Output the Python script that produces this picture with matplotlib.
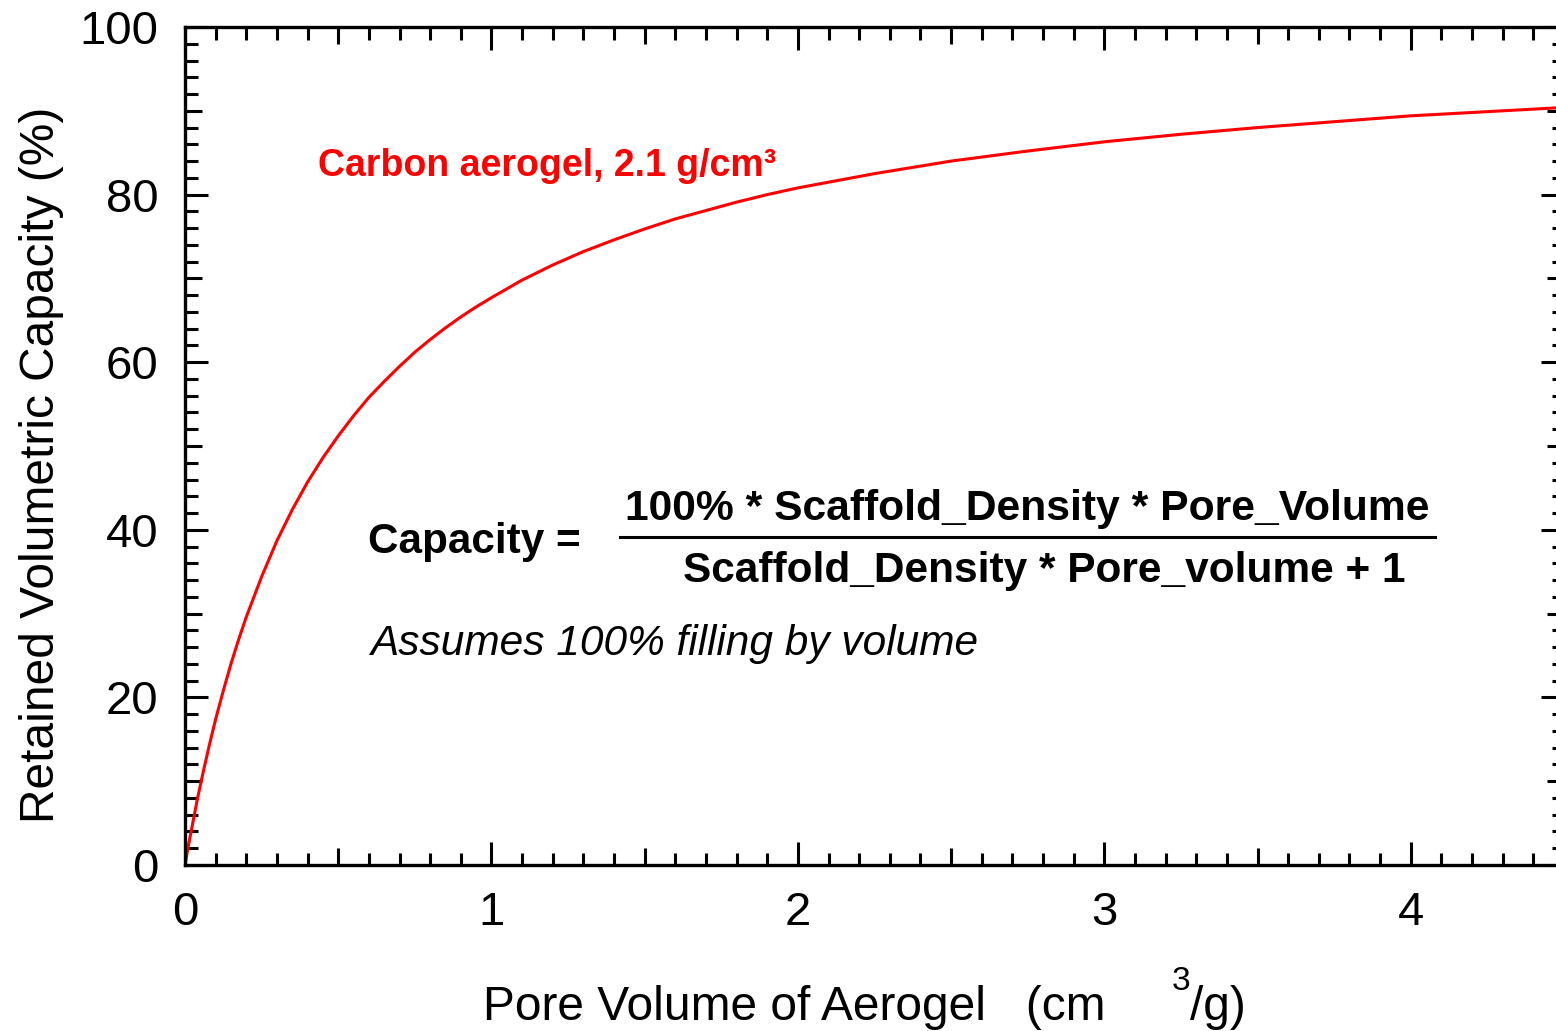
import numpy as np
import matplotlib
matplotlib.use("Agg")
import matplotlib.pyplot as plt
from matplotlib.lines import Line2D
from matplotlib.ticker import FixedLocator

# ---- data ----
pore_volume = [0.0, 0.01, 0.02, 0.03, 0.04, 0.05, 0.06, 0.08, 0.1, 0.125, 0.15, 0.175, 0.2,
               0.25, 0.3, 0.35, 0.4, 0.45, 0.5, 0.55, 0.6, 0.65, 0.7, 0.75, 0.8, 0.85, 0.9,
               0.95, 1.0, 1.1, 1.2, 1.3, 1.4, 1.5, 1.6, 1.7, 1.8, 1.9, 2.0, 2.25, 2.5, 2.75,
               3.0, 3.25, 3.5, 3.75, 4.0, 4.25, 4.5]
capacity = [0.0, 2.1, 4.0, 5.9, 7.8, 9.5, 11.2, 14.4, 17.4, 20.8, 24.0, 26.9, 29.6,
            34.4, 38.7, 42.4, 45.7, 48.6, 51.2, 53.6, 55.8, 57.7, 59.5, 61.2, 62.7, 64.1, 65.4,
            66.6, 67.7, 69.8, 71.6, 73.2, 74.6, 75.9, 77.1, 78.1, 79.1, 80.0, 80.8, 82.5, 84.0,
            85.2, 86.3, 87.2, 88.0, 88.7, 89.4, 89.9, 90.4]
x_ticks = [0, 1, 2, 3, 4]
x_labels = ["0", "1", "2", "3", "4"]
y_ticks = [0, 20, 40, 60, 80, 100]
y_labels = ["0", "20", "40", "60", "80", "100"]

W, H = 1556, 1031
plt.rcParams['font.family'] = ['Liberation Sans', 'DejaVu Sans']

fig = plt.figure(figsize=(W / 100, H / 100), dpi=100)
ax = fig.add_axes([185 / W, (H - 865) / H, (1564 - 185) / W, (865 - 27) / H])

ax.plot(pore_volume, capacity, color='#ff0000', lw=2.2, solid_capstyle='butt',
        solid_joinstyle='round')
ax.set_xlim(0, 4.5)
ax.set_ylim(0, 100)

ax.set_xticks(x_ticks)
ax.set_xticklabels(x_labels)
ax.set_yticks(y_ticks)
ax.set_yticklabels(y_labels)

xminor = [v for v in np.round(np.arange(0, 4.51, 0.1), 2) if abs(v - round(v)) > 1e-6]
yminor = [v for v in range(0, 101, 2) if v % 20 != 0]
ax.xaxis.set_minor_locator(FixedLocator(xminor))
ax.yaxis.set_minor_locator(FixedLocator(yminor))

for s in ax.spines.values():
    s.set_linewidth(2.4)
ax.tick_params(which='both', direction='in', top=True, right=True, width=2.2)
ax.tick_params(which='major', length=16.5, labelsize=34, pad=19)
ax.tick_params(which='minor', length=9)
ax.tick_params(axis='x', which='major', pad=19)

# medium ticks at half intervals
for loc, t in zip(ax.xaxis.get_minorticklocs(), ax.xaxis.get_minor_ticks()):
    if abs(loc * 2 - round(loc * 2)) < 1e-6:
        t.tick1line.set_markersize(12.5)
        t.tick2line.set_markersize(12.5)
for loc, t in zip(ax.yaxis.get_minorticklocs(), ax.yaxis.get_minor_ticks()):
    if abs(loc % 10) < 1e-6:
        t.tick1line.set_markersize(12.5)
        t.tick2line.set_markersize(12.5)


def fx(x):
    return x / W


def fy(y):
    return 1 - y / H


# axis labels
fig.text(fx(42), fy(465), "Retained Volumetric Capacity (%)", rotation=90,
         ha='center', va='center', fontsize=34.5)
fig.text(fx(483), fy(1020), "Pore Volume of Aerogel   (cm", ha='left', va='baseline',
         fontsize=34.5)
fig.text(fx(1172), fy(990), "3", ha='left', va='baseline', fontsize=24)
fig.text(fx(1190), fy(1020), "/g)", ha='left', va='baseline', fontsize=34.5)

# annotations
fig.text(fx(318), fy(176), "Carbon aerogel, 2.1 g/cm³", color='#ff0000',
         fontweight='bold', fontsize=27, ha='left', va='baseline')
fig.text(fx(368), fy(553), "Capacity =", fontweight='bold', fontsize=30.4,
         ha='left', va='baseline')
fig.text(fx(1027), fy(520), "100% * Scaffold_Density * Pore_Volume", fontweight='bold',
         fontsize=30.7, ha='center', va='baseline')
fig.text(fx(1044), fy(582), "Scaffold_Density * Pore_volume + 1", fontweight='bold',
         fontsize=30.5, ha='center', va='baseline')
fig.add_artist(Line2D([fx(620), fx(1435)], [fy(537), fy(537)], color='black', lw=2.2))
fig.text(fx(370), fy(655), "Assumes 100% filling by volume", fontstyle='italic',
         fontsize=30.5, ha='left', va='baseline')

fig.savefig("out.png", dpi=100)
